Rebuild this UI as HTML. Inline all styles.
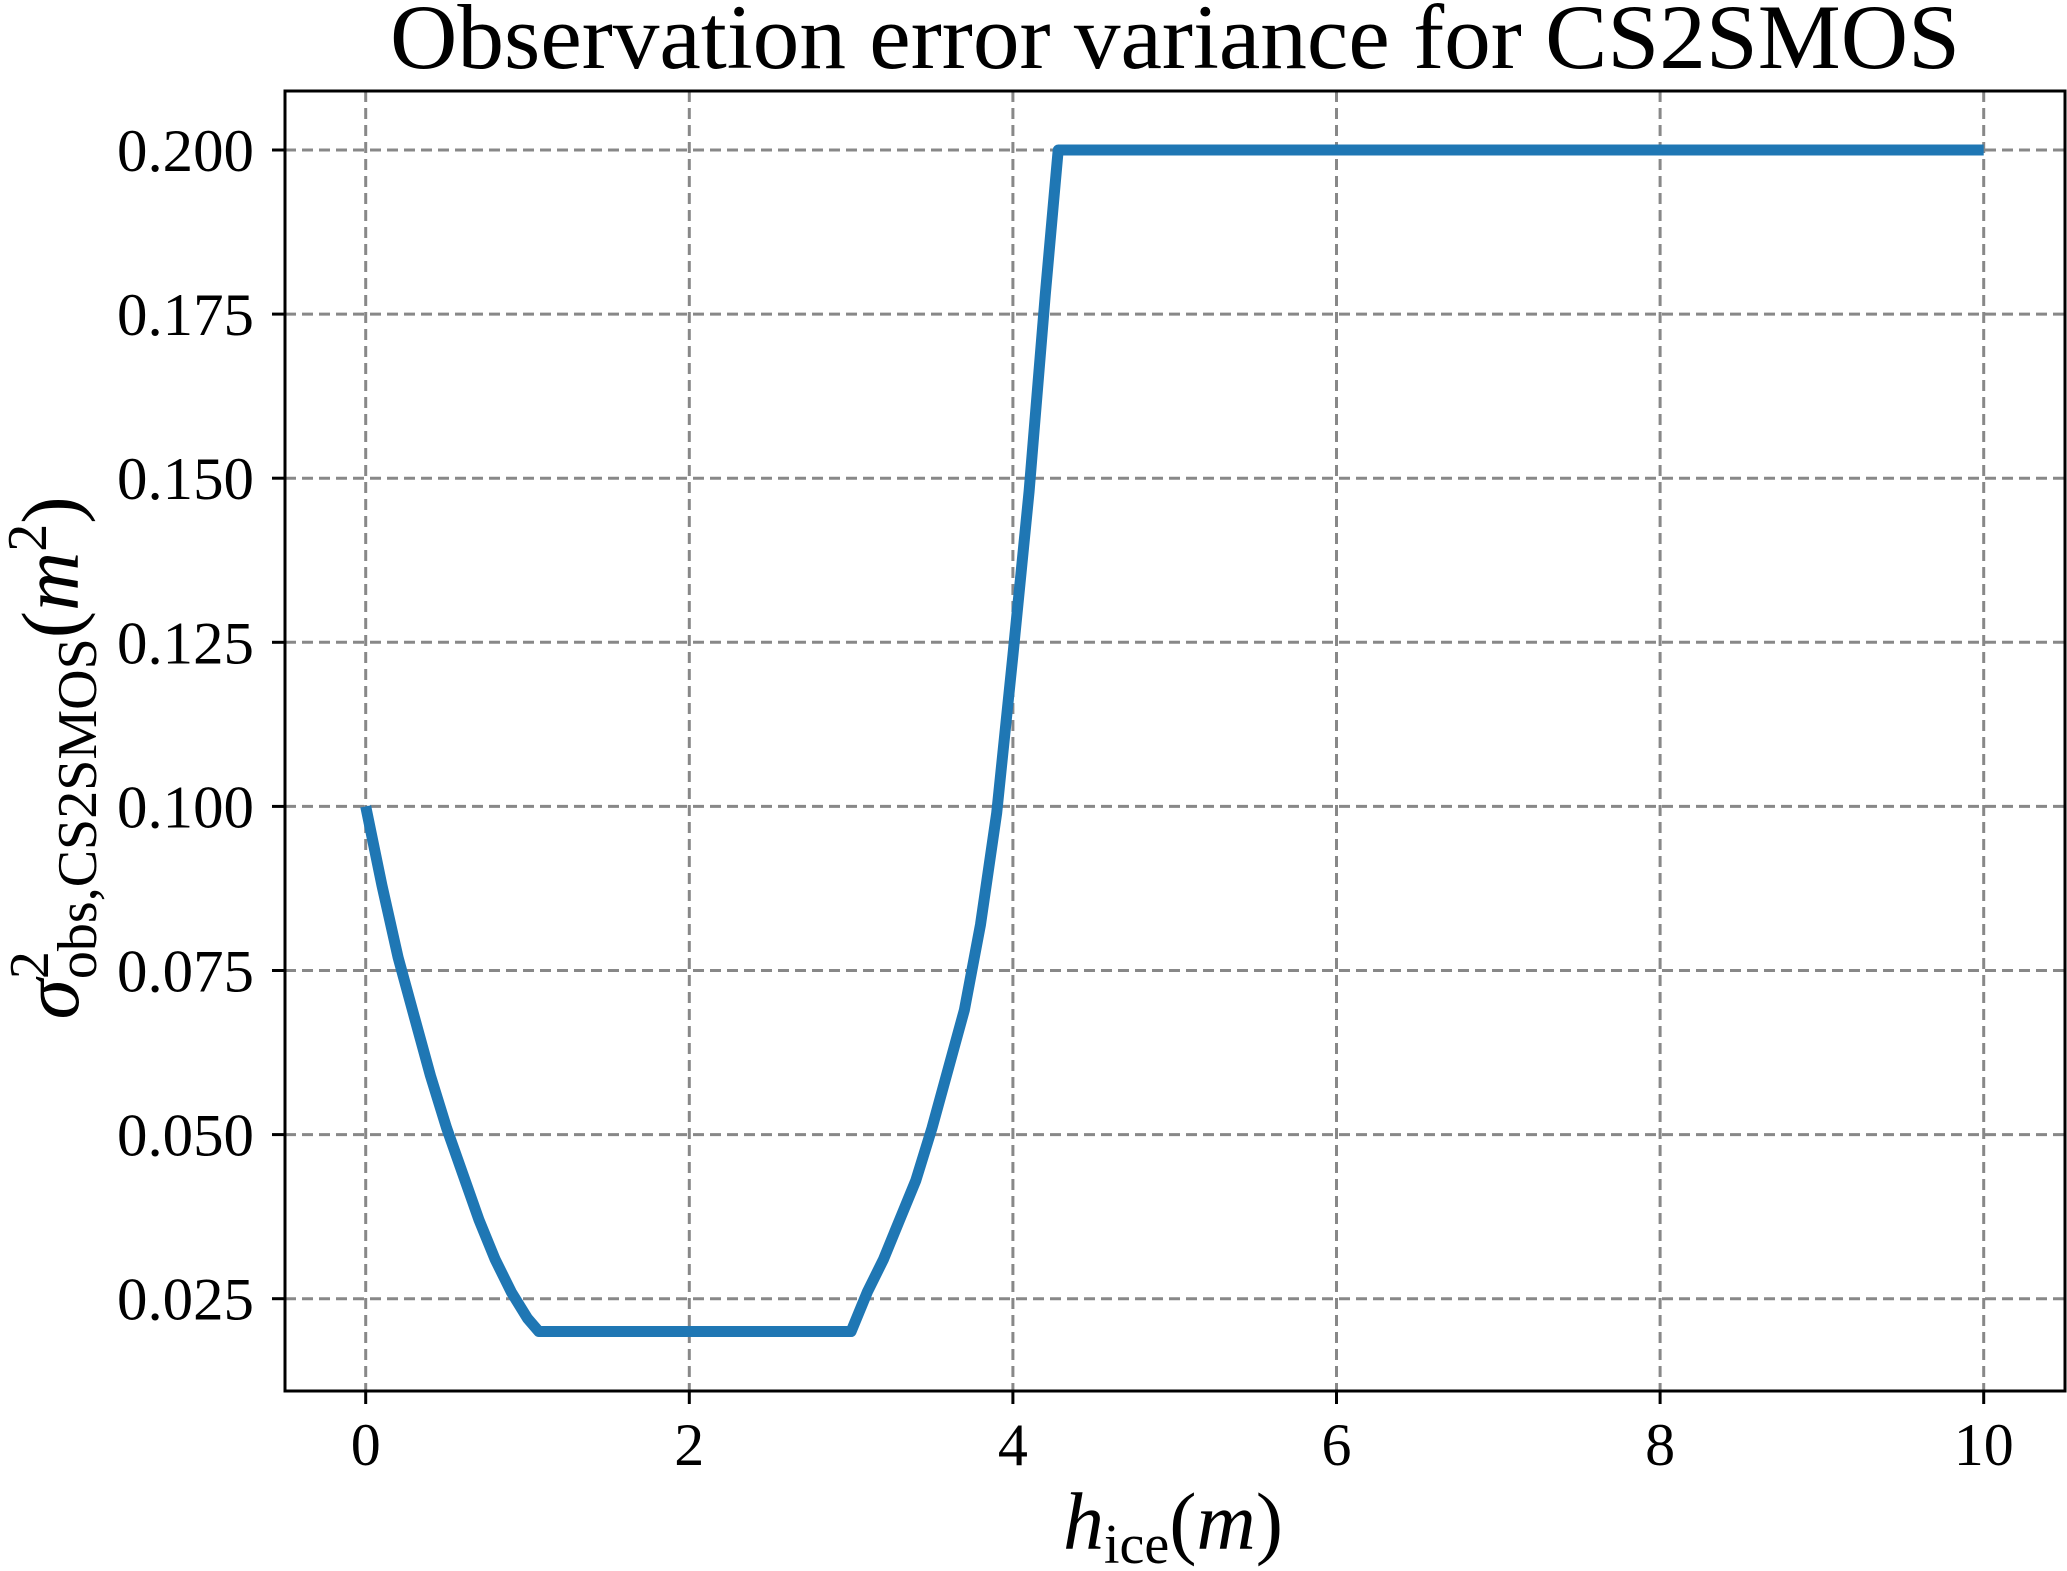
<!DOCTYPE html>
<html><head><meta charset="utf-8"><style>
html,body{margin:0;padding:0;background:#fff;}
svg{display:block;font-family:"Liberation Serif","DejaVu Serif",serif;}
</style></head><body>
<svg id="chart" width="2067" height="1571" viewBox="0 0 2067 1571" xmlns="http://www.w3.org/2000/svg">
<text x="1175" y="68" font-size="92" text-anchor="middle" textLength="1570" lengthAdjust="spacingAndGlyphs">Observation error variance for CS2SMOS</text>
<g id="grid"></g>
<g id="ticks"></g>
<path id="series" fill="none" stroke="#1f77b4" stroke-width="11" stroke-linejoin="round"/>
<rect x="285" y="91" width="1780" height="1300" fill="none" stroke="#000" stroke-width="3"/>
<text x="1173" y="1549" font-size="82" text-anchor="middle"><tspan font-style="italic">h</tspan><tspan font-size="56" dy="14">ice</tspan><tspan dy="-14">(</tspan><tspan font-style="italic">m</tspan>)</text>
<text transform="translate(78,758) rotate(-90)" font-size="82" text-anchor="middle"><tspan font-style="italic">σ</tspan><tspan font-size="56" dy="-30">2</tspan><tspan font-size="56" dx="-28" dy="48">obs,CS2SMOS</tspan><tspan dy="-18">(</tspan><tspan font-style="italic">m</tspan><tspan font-size="56" dy="-32">2</tspan><tspan dy="32">)</tspan></text>
</svg>
<script>
const xTicks=[0,2,4,6,8,10];
const yTicks=[0.025,0.050,0.075,0.100,0.125,0.150,0.175,0.200];
const xs=[0,0.1,0.2,0.3,0.4,0.5,0.6,0.7,0.8,0.9,1.0,1.07,2.0,3.0,3.1,3.2,3.3,3.4,3.5,3.6,3.7,3.8,3.9,4.0,4.1,4.2,4.28,6,8,10];
const ys=[0.100,0.088,0.077,0.068,0.059,0.051,0.044,0.037,0.031,0.026,0.022,0.020,0.020,0.020,0.026,0.031,0.037,0.043,0.051,0.060,0.069,0.082,0.099,0.123,0.148,0.178,0.200,0.200,0.200,0.200];
const X=v=>365.7+v*161.8;
const Y=v=>150+(0.2-v)/0.025*164.1;
const NS="http://www.w3.org/2000/svg";
const grid=document.getElementById('grid'),ticks=document.getElementById('ticks');
function mk(tag,attrs,parent){const e=document.createElementNS(NS,tag);for(const k in attrs)e.setAttribute(k,attrs[k]);parent.appendChild(e);return e;}
xTicks.forEach(v=>{
 const g=mk('line',{x1:X(v),x2:X(v),y1:91,y2:1391,stroke:'#888','stroke-width':3,'stroke-dasharray':'11 6'},grid);
 
 
 const t=mk('line',{x1:X(v),x2:X(v),y1:1391,y2:1404,stroke:'#000','stroke-width':3},ticks);
 
 
 const l=mk('text',{x:X(v),y:1465,'font-size':60,'text-anchor':'middle'},ticks);
 l.textContent=String(v);
 
 
});
yTicks.forEach(v=>{
 const g=mk('line',{x1:285,x2:2065,y1:Y(v),y2:Y(v),stroke:'#888','stroke-width':3,'stroke-dasharray':'11 6'},grid);
 
 
 const t=mk('line',{x1:272,x2:285,y1:Y(v),y2:Y(v),stroke:'#000','stroke-width':3},ticks);
 
 
 const l=mk('text',{x:254,y:Y(v)+21,'font-size':60,'text-anchor':'end',textLength:137,lengthAdjust:'spacingAndGlyphs'},ticks);
 l.textContent=v.toFixed(3);
 
 
});
document.getElementById('series').setAttribute('d',xs.map((x,i)=>(i?'L':'M')+X(x).toFixed(1)+' '+Y(ys[i]).toFixed(1)).join(' '));
</script>
</body></html>
